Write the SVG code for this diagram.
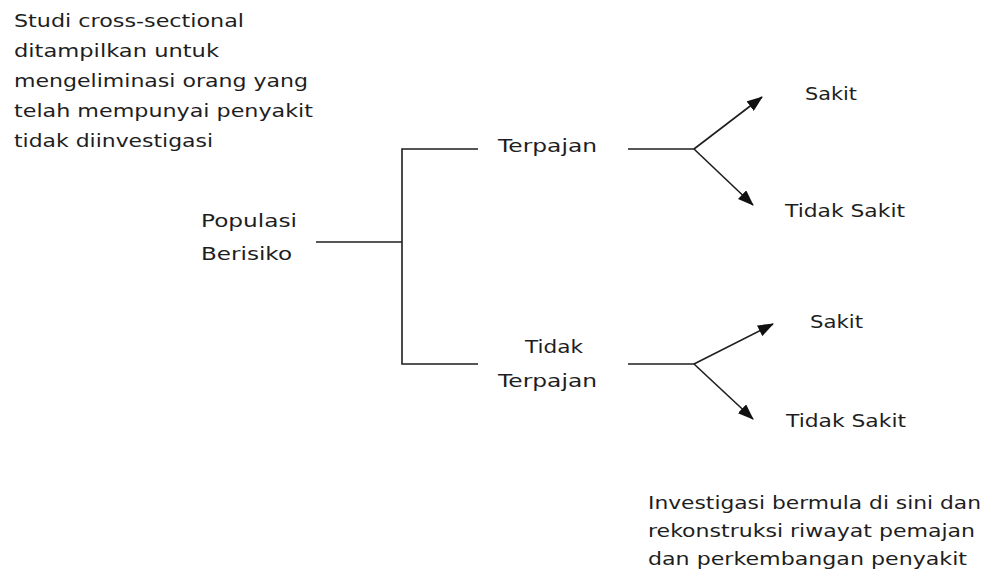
<svg xmlns="http://www.w3.org/2000/svg" width="992" height="579" viewBox="0 0 992 579">
<defs>
<style>
text{font-family:"DejaVu Sans","Liberation Sans",sans-serif;font-size:17.5px;fill:#1e1e1e}
.ln{stroke:#1e1e1e;stroke-width:1.6;fill:none}
</style>
<marker id="ah" markerUnits="userSpaceOnUse" markerWidth="16" markerHeight="12" viewBox="0 0 16 12" refX="15" refY="6" orient="auto">
<path d="M0,0 L16,6 L0,12 Z" fill="#111"/>
</marker>
</defs>
<rect width="992" height="579" fill="#fff"/>
<g id="note-top">
<text x="14" y="27" textLength="230" lengthAdjust="spacingAndGlyphs">Studi cross-sectional</text>
<text x="14" y="57" textLength="205" lengthAdjust="spacingAndGlyphs">ditampilkan untuk</text>
<text x="14" y="87" textLength="294" lengthAdjust="spacingAndGlyphs">mengeliminasi orang yang</text>
<text x="14" y="117" textLength="299" lengthAdjust="spacingAndGlyphs">telah mempunyai penyakit</text>
<text x="14" y="147" textLength="199" lengthAdjust="spacingAndGlyphs">tidak diinvestigasi</text>
</g>
<g id="populasi">
<text x="201" y="227" textLength="96" lengthAdjust="spacingAndGlyphs">Populasi</text>
<text x="201" y="260" textLength="91" lengthAdjust="spacingAndGlyphs">Berisiko</text>
</g>
<g id="terpajan">
<text x="498" y="152" textLength="99" lengthAdjust="spacingAndGlyphs">Terpajan</text>
</g>
<g id="tidak-terpajan">
<text x="525" y="353" textLength="58" lengthAdjust="spacingAndGlyphs">Tidak</text>
<text x="498" y="387" textLength="99" lengthAdjust="spacingAndGlyphs">Terpajan</text>
</g>
<g id="sakit-1">
<text x="805" y="100" textLength="52" lengthAdjust="spacingAndGlyphs">Sakit</text>
</g>
<g id="tidak-sakit-1">
<text x="785" y="217" textLength="120" lengthAdjust="spacingAndGlyphs">Tidak Sakit</text>
</g>
<g id="sakit-2">
<text x="810" y="328" textLength="53" lengthAdjust="spacingAndGlyphs">Sakit</text>
</g>
<g id="tidak-sakit-2">
<text x="786" y="427" textLength="120" lengthAdjust="spacingAndGlyphs">Tidak Sakit</text>
</g>
<g id="note-bottom">
<text x="648" y="509" textLength="333" lengthAdjust="spacingAndGlyphs">Investigasi bermula di sini dan</text>
<text x="648" y="537" textLength="327" lengthAdjust="spacingAndGlyphs">rekonstruksi riwayat pemajan</text>
<text x="648" y="565" textLength="319" lengthAdjust="spacingAndGlyphs">dan perkembangan penyakit</text>
</g>
<g id="connectors">
<path class="ln" d="M316,242 H402"/>
<path class="ln" d="M478,149 H402 V364 H478"/>
<path class="ln" d="M628,149 H694"/>
<path class="ln" d="M694,149 L762,97" marker-end="url(#ah)"/>
<path class="ln" d="M694,149 L753,205" marker-end="url(#ah)"/>
<path class="ln" d="M628,364 H694"/>
<path class="ln" d="M694,364 L773,324" marker-end="url(#ah)"/>
<path class="ln" d="M694,364 L753,419" marker-end="url(#ah)"/>
</g>
</svg>
